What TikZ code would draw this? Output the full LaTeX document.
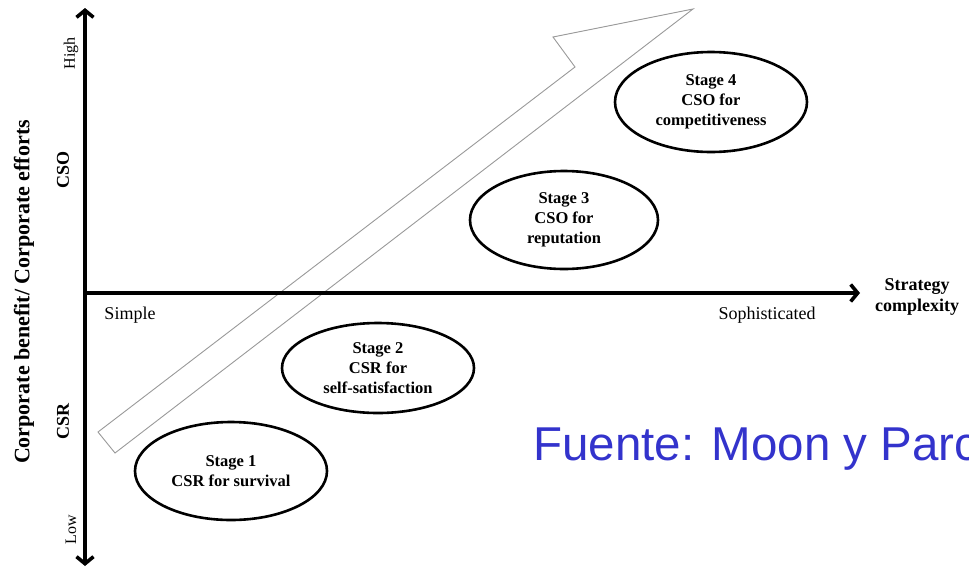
\documentclass[tikz,border=0pt]{standalone}
\usepackage{fontspec}
\setmainfont{Liberation Serif}
\newfontfamily\arialfont{Liberation Sans}
\usetikzlibrary{shapes.geometric,arrows.meta}
\definecolor{fuenteblue}{RGB}{51,51,204}
\begin{document}
\begin{tikzpicture}[%
      x=1pt,y=-1pt,
      axis/.style={line width=3.6pt},
      barb/.tip={Straight Barb[length=7pt,width=17pt]},
      stage/.style={ellipse,draw,line width=2.6pt,align=center,inner sep=0pt,minimum width=192pt,minimum height=98pt,font=\fontsize{16.5}{20}\selectfont\bfseries},
      trend/.style={draw=black!40,line width=0.9pt,line join=miter},
      tick/.style={font=\fontsize{18}{20}\selectfont},
      axlabel/.style={font=\fontsize{18}{21}\selectfont\bfseries,align=center}
      ]
      \useasboundingbox (0,0) rectangle (969,568);
      \clip (0,0) rectangle (969,568);
      \coordinate (O) at (85,293);
      \coordinate (Ytop) at (85,8);
      \coordinate (Ybot) at (85,566);
      \coordinate (Xend) at (860,293);
      \draw[trend] (98,432) -- (575,67) -- (553,37) -- (693,9) -- (115,453) -- cycle;
      \draw[axis,barb-barb] (Ybot) -- (Ytop);
      \draw[axis,-barb] (O) -- (Xend);
      \draw (231,471) node[stage] (S1) {Stage 1\\CSR for survival};
      \draw (378,368) node[stage,minimum height=90pt] (S2) {Stage 2\\CSR for\\self-satisfaction};
      \draw (564,220) node[stage,minimum width=188pt] (S3) {Stage 3\\CSO for\\reputation};
      \draw (711,102) node[stage,minimum height=100pt] (S4) {Stage 4\\CSO for\\competitiveness};
      \draw (71,53) node[rotate=90,font=\fontsize{16}{18}\selectfont] (High) {High};
      \draw (71,530) node[rotate=90,font=\fontsize{16}{18}\selectfont] (Low) {Low};
      \draw (63,170) node[rotate=90,axlabel] (CSO) {CSO};
      \draw (63,421) node[rotate=90,axlabel] (CSR) {CSR};
      \draw (24,292) node[rotate=90,font=\fontsize{22}{24}\selectfont\bfseries] (Ylab) {Corporate benefit/ Corporate efforts};
      \draw (130,315) node[tick] (Simple) {Simple};
      \draw (767,315) node[tick] (Soph) {Sophisticated};
      \draw (917,297) node[axlabel] (Xlab) {Strategy\\complexity};
      \draw (533,460) node[anchor=base west,inner sep=0pt,text=fuenteblue,font=\arialfont\fontsize{47.5}{50}\selectfont] (Src) {Fuente: Moon y Parc};
    \end{tikzpicture}
\end{document}
